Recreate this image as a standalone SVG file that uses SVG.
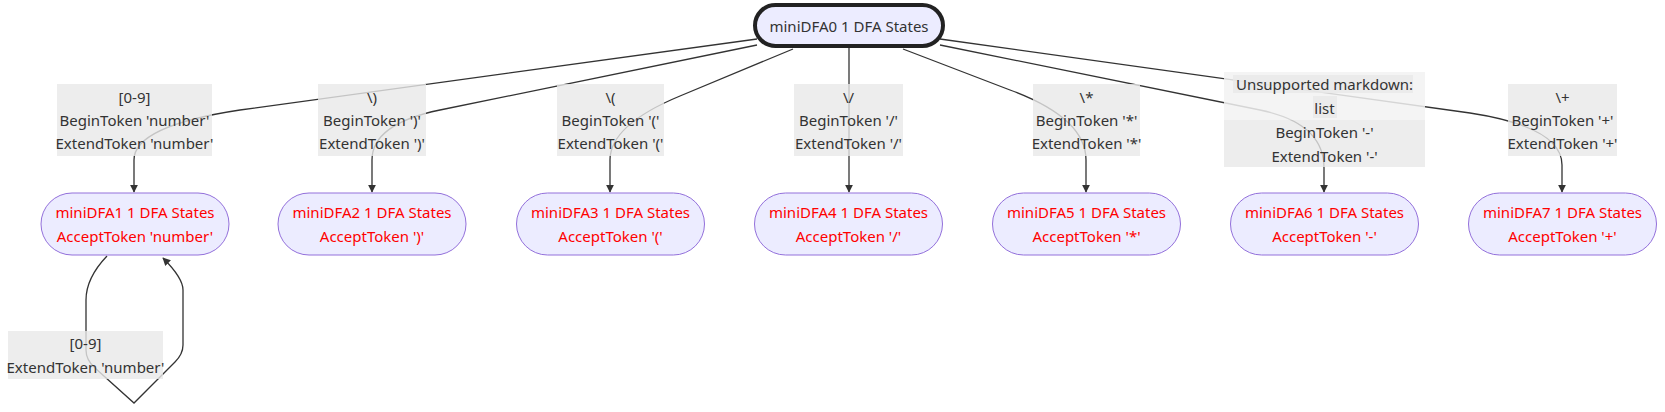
<svg xmlns="http://www.w3.org/2000/svg" width="1665" height="412" viewBox="0 0 1665 412">
<style>
text{font-family:"Noto Sans","Open Sans","Liberation Sans",sans-serif;font-size:15px;text-anchor:middle}
.lbl text{fill:#333}
.lbl rect{fill:rgba(232,232,232,0.8)}
.node rect{fill:#ECECFF;stroke:#9370DB;stroke-width:1}
.node text{fill:#ff0000}
.edge{fill:none;stroke:#333;stroke-width:1.3}
</style>
<defs>
<marker id="arr" viewBox="0 0 10 10" refX="9" refY="5" markerWidth="8" markerHeight="8" markerUnits="userSpaceOnUse" orient="auto"><path d="M0,0 L10,5 L0,10 z" fill="#333"/></marker>
</defs>
<rect width="1665" height="412" fill="#fff"/>
<g id="connectors">
<path class="edge" d="M757,39 L240,110 Q134,126 134,160 L134,192" marker-end="url(#arr)"/>
<path class="edge" d="M757,45 L440,110 Q372,124 372,160 L372,192" marker-end="url(#arr)"/>
<path class="edge" d="M793,49 L680,96 Q610,125 610,160 L610,192" marker-end="url(#arr)"/>
<path class="edge" d="M849,47 L849,192" marker-end="url(#arr)"/>
<path class="edge" d="M903,49 L1010,90 Q1086,118 1086,160 L1086,192" marker-end="url(#arr)"/>
<path class="edge" d="M940,45 L1260,110 Q1324,123 1324,168 L1324,192" marker-end="url(#arr)"/>
<path class="edge" d="M940,39 L1470,113 Q1562,127 1562,165 L1562,192" marker-end="url(#arr)"/>
<path class="edge" d="M107,256 Q86,278 86,300 L86,350 Q86,360 95,368 L134,403 L175,362 Q183,354 183,345 L183,290 Q183,278 163,258" marker-end="url(#arr)"/>
</g>
<g id="root">
<rect x="755" y="5" width="188" height="41" rx="20.5" fill="#ECECFF" stroke="#222" stroke-width="4"/>
<text x="849" y="31.5" fill="#333">miniDFA0 1 DFA States</text>
</g>
<g id="label1" class="lbl">
<rect x="57" y="84" width="155" height="72"/>
<text x="134.5" y="102.5">[0-9]</text>
<text x="134.5" y="125.5">BeginToken 'number'</text>
<text x="134.5" y="148.5">ExtendToken 'number'</text>
</g>
<g id="label2" class="lbl">
<rect x="318" y="84" width="108" height="72"/>
<text x="372" y="102.5">\)</text>
<text x="372" y="125.5">BeginToken ')'</text>
<text x="372" y="148.5">ExtendToken ')'</text>
</g>
<g id="label3" class="lbl">
<rect x="557" y="84" width="107" height="72"/>
<text x="610.5" y="102.5">\(</text>
<text x="610.5" y="125.5">BeginToken '('</text>
<text x="610.5" y="148.5">ExtendToken '('</text>
</g>
<g id="label4" class="lbl">
<rect x="794" y="84" width="109" height="72"/>
<text x="848.5" y="102.5">\/</text>
<text x="848.5" y="125.5">BeginToken '/'</text>
<text x="848.5" y="148.5">ExtendToken '/'</text>
</g>
<g id="label5" class="lbl">
<rect x="1033" y="84" width="107" height="72"/>
<text x="1086.5" y="102.5">\*</text>
<text x="1086.5" y="125.5">BeginToken '*'</text>
<text x="1086.5" y="148.5">ExtendToken '*'</text>
</g>
<g id="label6" class="lbl">
<rect x="1224" y="72" width="201" height="48" style="fill:rgba(242,242,242,0.85)"/>
<rect x="1233" y="75" width="180" height="18"/>
<rect x="1313" y="96" width="24" height="22"/>
<rect x="1224" y="120" width="201" height="47"/>
<text x="1324.5" y="89.5">Unsupported markdown:</text>
<text x="1324.5" y="113.5">list</text>
<text x="1324.5" y="137.5">BeginToken '-'</text>
<text x="1324.5" y="161.5">ExtendToken '-'</text>
</g>
<g id="label7" class="lbl">
<rect x="1508" y="84" width="109" height="72"/>
<text x="1562.5" y="102.5">\+</text>
<text x="1562.5" y="125.5">BeginToken '+'</text>
<text x="1562.5" y="148.5">ExtendToken '+'</text>
</g>
<g id="label8" class="lbl">
<rect x="8" y="331" width="155" height="48"/>
<text x="85.5" y="348.5">[0-9]</text>
<text x="85.5" y="372.5">ExtendToken 'number'</text>
</g>
<g id="node1" class="node">
<rect x="41" y="193" width="188" height="62" rx="31"/>
<text x="135" y="217.5">miniDFA1 1 DFA States</text>
<text x="135" y="241.5">AcceptToken 'number'</text>
</g>
<g id="node2" class="node">
<rect x="278" y="193" width="188" height="62" rx="31"/>
<text x="372" y="217.5">miniDFA2 1 DFA States</text>
<text x="372" y="241.5">AcceptToken ')'</text>
</g>
<g id="node3" class="node">
<rect x="516.5" y="193" width="188" height="62" rx="31"/>
<text x="610.5" y="217.5">miniDFA3 1 DFA States</text>
<text x="610.5" y="241.5">AcceptToken '('</text>
</g>
<g id="node4" class="node">
<rect x="754.5" y="193" width="188" height="62" rx="31"/>
<text x="848.5" y="217.5">miniDFA4 1 DFA States</text>
<text x="848.5" y="241.5">AcceptToken '/'</text>
</g>
<g id="node5" class="node">
<rect x="992.5" y="193" width="188" height="62" rx="31"/>
<text x="1086.5" y="217.5">miniDFA5 1 DFA States</text>
<text x="1086.5" y="241.5">AcceptToken '*'</text>
</g>
<g id="node6" class="node">
<rect x="1230.5" y="193" width="188" height="62" rx="31"/>
<text x="1324.5" y="217.5">miniDFA6 1 DFA States</text>
<text x="1324.5" y="241.5">AcceptToken '-'</text>
</g>
<g id="node7" class="node">
<rect x="1468.5" y="193" width="188" height="62" rx="31"/>
<text x="1562.5" y="217.5">miniDFA7 1 DFA States</text>
<text x="1562.5" y="241.5">AcceptToken '+'</text>
</g>
</svg>
